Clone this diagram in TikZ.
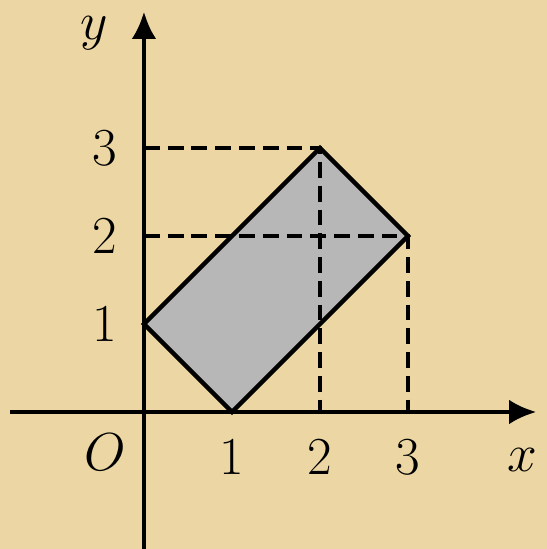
\documentclass[tikz,border=0pt]{standalone}
\usepackage{xcolor}
\usepackage{tikz}
\usetikzlibrary{arrows.meta,positioning}
\definecolor{parchment}{HTML}{ECD7A4}
\definecolor{regiongray}{HTML}{B7B7B7}
\tikzstyle{axis} = [-{Latex[length=3.1mm,width=2.8mm]}, line width=1.4pt]
\tikzstyle{guide} = [line width=1.4pt, dash pattern=on 1.8mm off 0.9mm]
\tikzstyle{lbl} = [font=\fontsize{19}{22}\selectfont, inner sep=0pt]

\begin{document}
\begin{tikzpicture}[x=1cm, y=1cm]
\fill[parchment] (-1.636,-1.557) rectangle (4.580,4.682);
\useasboundingbox (-1.636,-1.557) rectangle (4.580,4.682);

% region
\coordinate (A) at (0,1);
\coordinate (B) at (2,3);
\coordinate (C) at (3,2);
\coordinate (D) at (1,0);
\filldraw[fill=regiongray, line width=1.4pt, line join=miter] (A) -- (B) -- (C) -- (D) -- cycle;

% guides
\coordinate (y3) at (0,3);
\coordinate (y2) at (0,2);
\coordinate (x2) at (2,0);
\coordinate (x3) at (3,0);
\draw[guide] (y3) -- (B) -- (x2);
\draw[guide] (y2) -- (C) -- (x3);

% axes
\coordinate (xs) at (-1.52,0);
\coordinate (xe) at (4.46,0);
\coordinate (ys) at (0,-1.6);
\coordinate (ye) at (0,4.55);
\draw[axis] (xs) -- (xe);
\draw[axis] (ys) -- (ye);

\node[lbl] (xl) at (4.30,-0.55) {$x$};
\node[lbl] (yl) at (-0.56,4.30) {$y$};
\node[lbl] (o) at (-0.44,-0.46) {$O$};
\foreach \n in {1,2,3} {
  \node[lbl] (xt\n) at (\n,-0.52) {$\n$};
  \node[lbl] (yt\n) at (-0.44,\n) {$\n$};
}
\end{tikzpicture}
\end{document}
